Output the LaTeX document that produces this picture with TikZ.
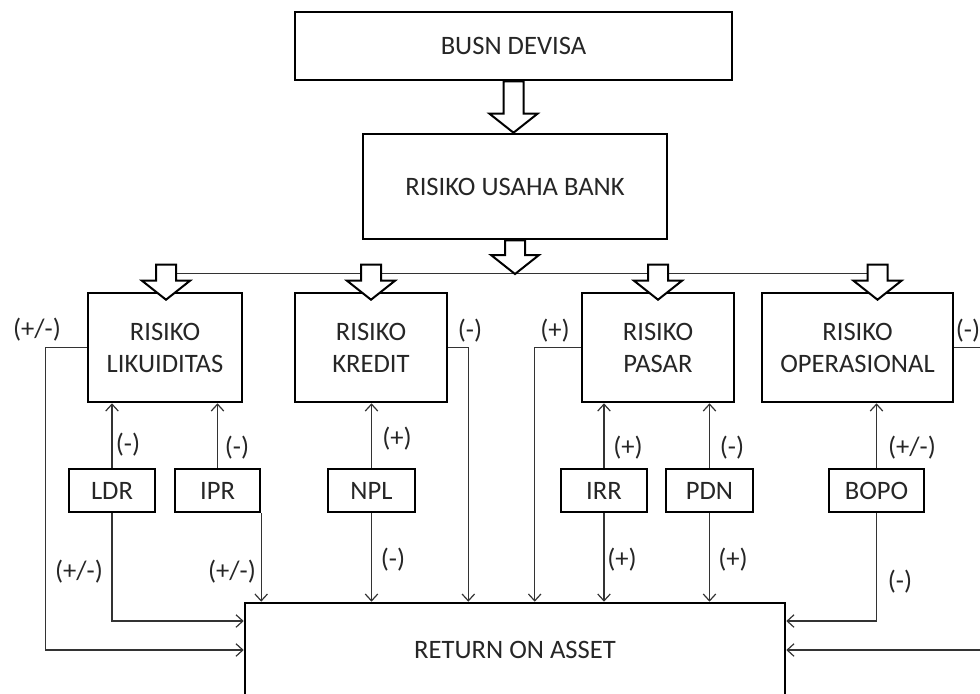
\documentclass[tikz,border=0pt]{standalone}
\usepackage{fontspec}
\setmainfont{Carlito}
\usetikzlibrary{arrows.meta,calc}

% hollow block arrow from #1 down to the tip #2
\newcommand\fatarrow[2]{%
  \draw[fat] let \p1=#1, \p2=#2 in
    (\x1-5pt,\y1) -- (\x1-5pt,\y2+9.5pt) -- (\x1-12pt,\y2+9.5pt) -- (\x1,\y2)
    -- (\x1+12pt,\y2+9.5pt) -- (\x1+5pt,\y2+9.5pt) -- (\x1+5pt,\y1) -- cycle;}

\begin{document}
\begin{tikzpicture}[x=0.5pt,y=-0.5pt,
  box/.style={draw=black,line width=1.3pt,align=center,inner sep=0pt,text=black!85,font=\fontsize{13.3}{16}\selectfont},
  risk/.style={box,minimum height=54.5pt},
  ratio/.style={box,line width=1.2pt,minimum height=21.5pt},
  link/.style={-{Straight Barb[length=1.2mm,width=2.2mm]},draw=black!80,line width=0.6pt},
  bar/.style={draw=black!80,line width=0.6pt},
  sign/.style={font=\fontsize{13.3}{16}\selectfont,text=black!85,inner sep=0pt},
  fat/.style={draw=black,fill=white,line width=1pt,line join=miter},
]
\useasboundingbox (0,0) rectangle (980,693);
\clip (0,0) rectangle (980,693);

% boxes
\node[box,minimum width=218.5pt,minimum height=34pt] (busn) at (513.5,46) {BUSN DEVISA};
\node[box,minimum width=152pt,minimum height=52.5pt] (rub) at (515,186.5) {RISIKO USAHA BANK};
\node[risk,minimum width=77pt] (lik) at (165,347.5) {RISIKO\\LIKUIDITAS};
\node[risk,minimum width=76pt] (kred) at (371,347.5) {RISIKO\\KREDIT};
\node[risk,minimum width=76pt] (pasar) at (658,347.5) {RISIKO\\PASAR};
\node[risk,minimum width=95.5pt] (oper) at (857.5,347.5) {RISIKO\\OPERASIONAL};
\node[ratio,minimum width=43pt] (ldr) at (112,490.5) {LDR};
\node[ratio,minimum width=42.5pt] (ipr) at (217.5,490.5) {IPR};
\node[ratio,minimum width=43.5pt] (npl) at (371.5,490.5) {NPL};
\node[ratio,minimum width=43pt] (irr) at (604,490.5) {IRR};
\node[ratio,minimum width=43.5pt] (pdn) at (709.5,490.5) {PDN};
\node[ratio,minimum width=47.5pt] (bopo) at (876.5,490.5) {BOPO};
\node[box,minimum width=270pt,minimum height=47pt] (roa) at (515,650) {RETURN ON ASSET};

% block arrows
\coordinate (bar) at (515,274);
\draw[bar] ($(lik.north)+(1,-18)$) -- ($(oper.north)+(20,-18)$);
\fatarrow{(busn.south)}{(rub.north)}
\fatarrow{(rub.south)}{(bar)}
\foreach \b/\d in {lik/1,kred/0,pasar/0,oper/20}
  {\fatarrow{($(\b.north)+(\d,-27)$)}{($(\b.north)+(\d,8)$)}}

% ratios to risks
\draw[link] (ldr.north) -- (ldr.north |- lik.south);
\draw[link] (ipr.north) -- (ipr.north |- lik.south);
\draw[link] (npl.north) -- (npl.north |- kred.south);
\draw[link] (irr.north) -- (irr.north |- pasar.south);
\draw[link] (pdn.north) -- (pdn.north |- pasar.south);
\draw[link] (bopo.north) -- (bopo.north |- oper.south);

% into return on asset
\coordinate (kd) at ($(kred.east)+(20,0)$);
\coordinate (pd) at ($(pasar.west)+(-46,0)$);
\draw[link] (lik.west) -- ++(-41,0) |- (roa.west);
\draw[link] (ldr.south) |- ($(roa.north west)!.2!(roa.south west)$);
\draw[link] (ipr.south east) -- (ipr.south east |- roa.north);
\draw[link] (npl.south) -- (npl.south |- roa.north);
\draw[link] (kred.east) -- (kd) -- (kd |- roa.north);
\draw[link] (pasar.west) -- (pd) -- (pd |- roa.north);
\draw[link] (irr.south) -- (irr.south |- roa.north);
\draw[link] (pdn.south) -- (pdn.south |- roa.north);
\draw[link] (bopo.south) |- ($(roa.north east)!.2!(roa.south east)$);
\draw[link] (oper.east) -- ++(60,0) |- (roa.east);

% signs
\node[sign] (s-lik) at (37,330) {(+/-)};
\node[sign] (s-kred) at (470,331) {(-)};
\node[sign] (s-pasar) at (555,331) {(+)};
\node[sign] (s-oper) at (968,331) {(-)};
\node[sign] (s-ldr) at (128,445) {(-)};
\node[sign] (s-ipr) at (237,448) {(-)};
\node[sign] (s-npl) at (397,439) {(+)};
\node[sign] (s-irr) at (628,448) {(+)};
\node[sign] (s-pdn) at (732,448) {(-)};
\node[sign] (s-bopo) at (912,448) {(+/-)};
\node[sign] (r-ldr) at (79,572) {(+/-)};
\node[sign] (r-ipr) at (232,572) {(+/-)};
\node[sign] (r-npl) at (393,560) {(-)};
\node[sign] (r-irr) at (622,560) {(+)};
\node[sign] (r-pdn) at (733,560) {(+)};
\node[sign] (r-bopo) at (900,582) {(-)};
\end{tikzpicture}
\end{document}
